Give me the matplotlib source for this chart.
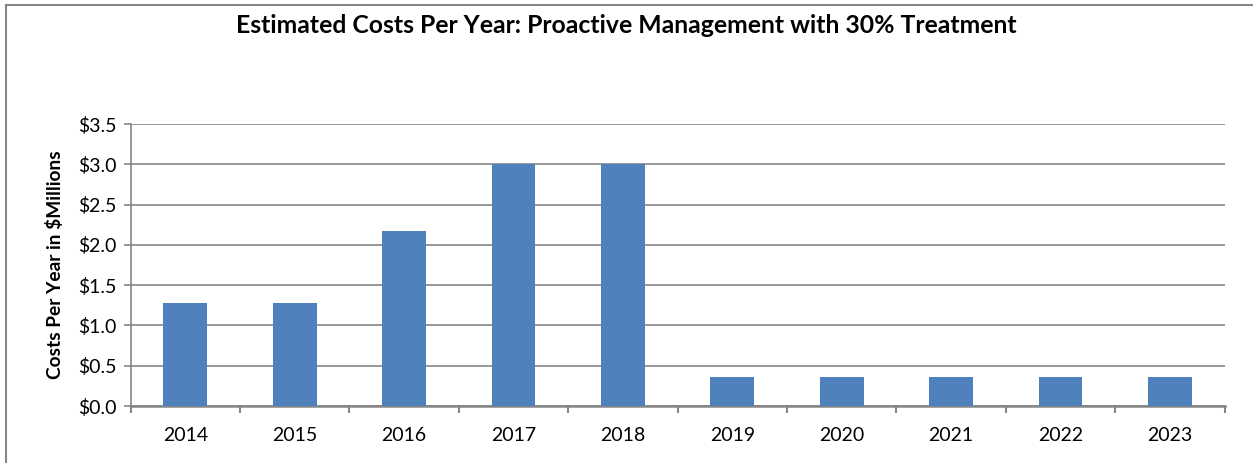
import numpy as np
import matplotlib
matplotlib.use('Agg')
import matplotlib.pyplot as plt
from matplotlib.ticker import FuncFormatter

plt.rcParams['font.family'] = ['Lato', 'DejaVu Sans']

years = ['2014', '2015', '2016', '2017', '2018', '2019', '2020', '2021', '2022', '2023']
costs = [1.28, 1.28, 2.17, 3.0, 3.0, 0.36, 0.36, 0.36, 0.36, 0.36]

grid_col = '#868686'
bar_col = '#4F81BD'

fig = plt.figure(figsize=(12.53, 4.63), dpi=100)
ax = fig.add_axes([0.1042, 0.1231, 0.8731, 0.609])

x = np.arange(len(years))
ax.bar(x, costs, width=0.4, color=bar_col, zorder=3)

ax.set_xlim(-0.5, len(years) - 0.5)
ax.set_ylim(0, 3.5)
ax.set_yticks(np.arange(0, 3.51, 0.5))
ax.yaxis.set_major_formatter(FuncFormatter(lambda v, p: f'${v:.1f}'))
ax.set_xticks(x)
ax.set_xticklabels(years)
ax.set_xticks(np.arange(-0.5, len(years)), minor=True)
ax.tick_params(axis='x', which='major', length=0, pad=15, labelsize=14)
ax.tick_params(axis='x', which='minor', length=5, color=grid_col, width=1.5)
ax.tick_params(axis='y', length=5, color=grid_col, width=1.2, labelsize=14, pad=5)

ax.grid(axis='y', color=grid_col, linewidth=1.2, zorder=0)
for s in ['top', 'right']:
    ax.spines[s].set_visible(False)
ax.spines['left'].set_color(grid_col)
ax.spines['left'].set_linewidth(1.2)
ax.spines['bottom'].set_color(grid_col)
ax.spines['bottom'].set_linewidth(1.8)

ax.set_ylabel('Costs Per Year in $Millions', fontsize=13.8, fontweight='bold', labelpad=10)

fig.text(0.5, 0.945, 'Estimated Costs Per Year: Proactive Management with 30% Treatment',
         ha='center', va='center', fontsize=17.8, fontweight='bold')

# border on top and left
fig.add_artist(plt.Line2D([6 / 1253, 6 / 1253], [0, 1 - 5 / 463], color=grid_col, lw=1.5,
                          transform=fig.transFigure))
fig.add_artist(plt.Line2D([6 / 1253, 1], [1 - 5 / 463, 1 - 5 / 463], color=grid_col, lw=1.5,
                          transform=fig.transFigure))

plt.savefig('out.png', dpi=100)
